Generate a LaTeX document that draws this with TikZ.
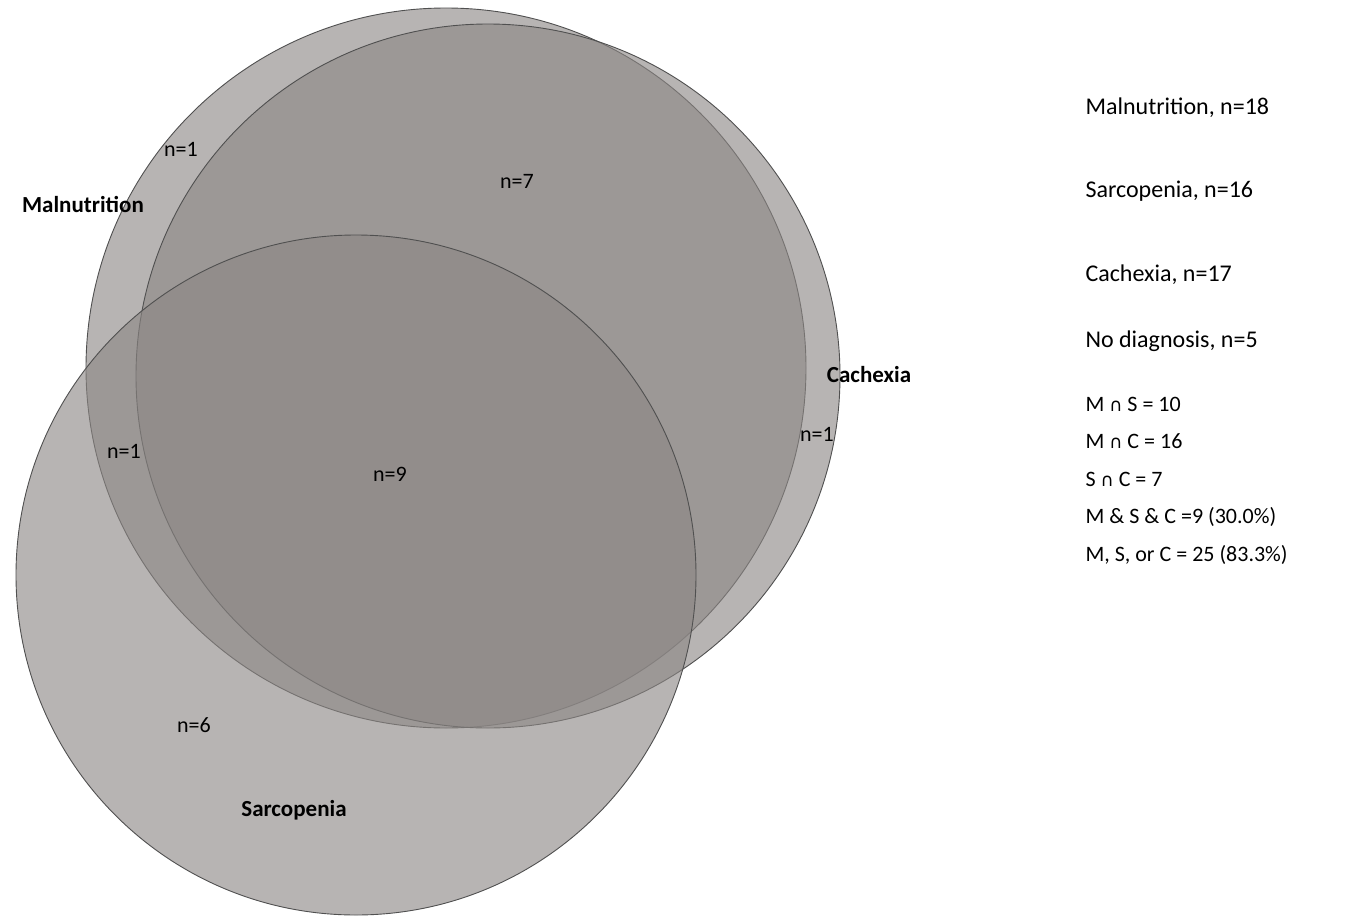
\documentclass[tikz,border=0pt]{standalone}
\usepackage{fontspec}
\setmainfont{Carlito}
\newfontfamily\djv{DejaVu Sans}
\begin{document}
\begin{tikzpicture}[x=1pt,y=-1pt,
  venn/.style={fill={rgb,255:red,140;green,135;blue,133},fill opacity=0.62,draw={rgb,255:red,80;green,80;blue,80},line width=0.9pt},
  lab/.style={font=\fontsize{22}{26}\selectfont},
  big/.style={font=\fontsize{24}{28}\selectfont,anchor=west},
  bold/.style={font=\fontsize{23}{27}\selectfont\bfseries}]
\useasboundingbox (0,0) rectangle (1350,916);
\fill[white] (0,0) rectangle (1350,916);
\path[venn] (446,368) circle[radius=360];
\path[venn] (488,376) circle[radius=352];
\path[venn] (356,575) circle[radius=340];
\node[bold] (mal) at (83,204) {Malnutrition};
\node[bold] (cac) at (869,375) {Cachexia};
\node[bold] (sar) at (294,810) {Sarcopenia};
\node[lab] (n1a) at (181,149) {n=1};
\node[lab] (n7) at (517,181) {n=7};
\node[lab] (n1b) at (124,451) {n=1};
\node[lab] (n9) at (390,474) {n=9};
\node[lab] (n1c) at (817,434) {n=1};
\node[lab] (n6) at (194,725) {n=6};
\node[big] (l1) at (1082,108) {Malnutrition, n=18};
\node[big] (l2) at (1082,191) {Sarcopenia, n=16};
\node[big] (l3) at (1082,275) {Cachexia, n=17};
\node[big] (l4) at (1082,341) {No diagnosis, n=5};
\node[lab,anchor=west] (s1) at (1082,404) {M {\djv\fontsize{18}{22}\selectfont ∩} S = 10};
\node[lab,anchor=west] (s2) at (1082,441) {M {\djv\fontsize{18}{22}\selectfont ∩} C = 16};
\node[lab,anchor=west] (s3) at (1082,479) {S {\djv\fontsize{18}{22}\selectfont ∩} C = 7};
\node[lab,anchor=west] (s4) at (1082,517) {M \& S \& C =9 (30.0\%)};
\node[lab,anchor=west] (s5) at (1082,555) {M, S, or C = 25 (83.3\%)};
\end{tikzpicture}
\end{document}
